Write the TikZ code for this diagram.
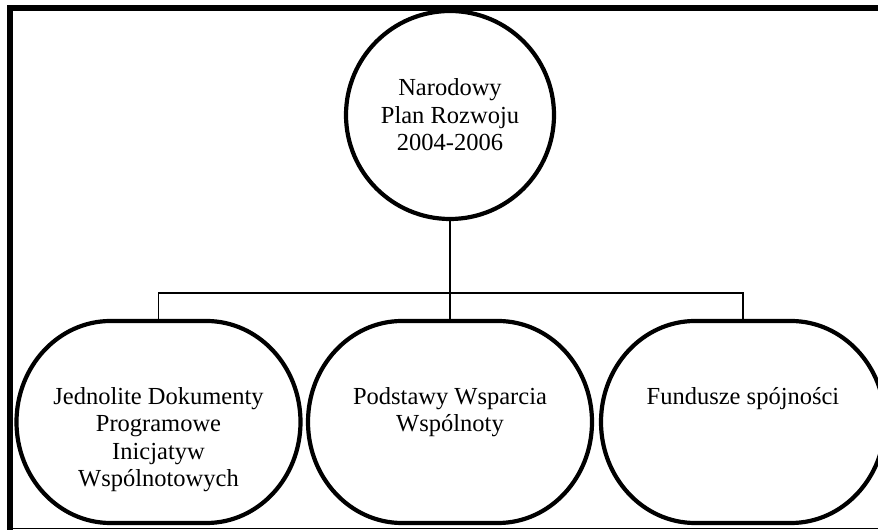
\documentclass[tikz,border=0pt]{standalone}
\usepackage{fontspec}
\setmainfont{Liberation Serif}
\newcommand\stadiumpath[1]{%
  \draw[thickline] ([xshift=-48pt]#1.north) -- ([xshift=48pt]#1.north)
    arc[start angle=90, end angle=-90, x radius=94pt, y radius=101pt]
    -- ([xshift=-48pt]#1.south)
    arc[start angle=270, end angle=90, x radius=94pt, y radius=101pt] -- cycle;}
\begin{document}
\begin{tikzpicture}[x=1pt,y=1pt,
  thickline/.style={line width=4.2pt, draw=black},
  thinline/.style={line width=1.2pt, draw=black},
  box/.style={rectangle, draw=none, minimum width=284pt, minimum height=202pt, inner sep=0pt, outer sep=0pt},
  txt/.style={font=\fontsize{24.5}{27.5}\selectfont, align=center, inner sep=0pt},
  rootnode/.style={circle, thickline, minimum size=208pt, inner sep=0pt, txt}]
\fontsize{24.5}{27.5}\selectfont
\useasboundingbox (0,0) rectangle (878,530);
\clip (0,0) rectangle (878,530);
\fill[white] (0,0) rectangle (878,530);
% frame
\draw[line width=6.2pt, line join=miter] (9.9,-10) -- (9.9,522.2) -- (890,522.2);
\draw[line width=1.2pt] (9.9,1.3) -- (890,1.3);
% nodes
\node[rootnode] (root) at (450,415) {Narodowy\\Plan Rozwoju\\2004-2006};
\node[box] (L) at (158.5,108) {};
\node[box] (M) at (450,108) {};
\node[box] (R) at (743,108) {};
\stadiumpath{L}
\stadiumpath{M}
\stadiumpath{R}
\node[txt, anchor=north] (Lt) at ([yshift=-63.75pt]L.north) {\strut Jednolite Dokumenty\\Programowe\\Inicjatyw\\Wspólnotowych};
\node[txt, anchor=north] (Mt) at ([yshift=-63.75pt]M.north) {\strut Podstawy Wsparcia\\Wspólnoty};
\node[txt, anchor=north] (Rt) at ([yshift=-63.75pt]R.north) {\strut Fundusze spójności};
% connectors
\coordinate (bus) at (450,237);
\draw[thinline] (root.south) -- (bus);
\draw[thinline] (L.north) |- (bus);
\draw[thinline] (R.north) |- (bus);
\draw[thinline] (M.north) -- (bus);
\end{tikzpicture}
\end{document}
